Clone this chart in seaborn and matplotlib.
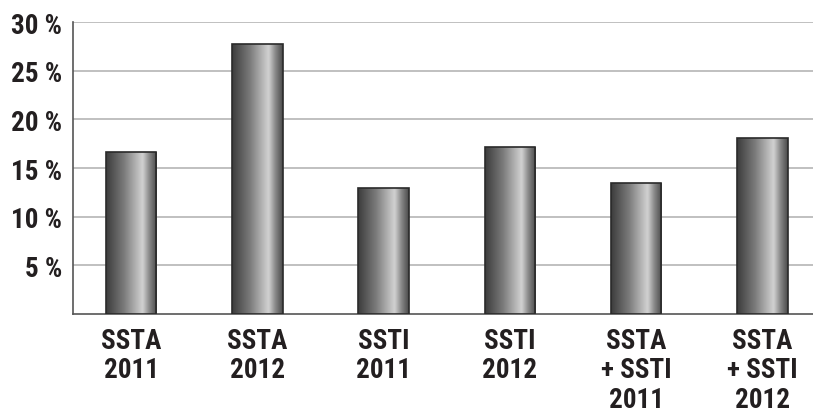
import numpy as np
import pandas as pd
import matplotlib
matplotlib.use("Agg")
import matplotlib.pyplot as plt
import seaborn as sns
from matplotlib.colors import LinearSegmentedColormap

categories = ["SSTA\n2011", "SSTA\n2012", "SSTI\n2011", "SSTI\n2012",
              "SSTA\n+ SSTI\n2011", "SSTA\n+ SSTI\n2012"]
values = [16.6, 27.7, 12.9, 17.2, 13.5, 18.1]
yticks = [5, 10, 15, 20, 25, 30]
ytick_labels = ["5 %", "10 %", "15 %", "20 %", "25 %", "30 %"]

sns.set_theme(style="white")
plt.rcParams['font.family'] = ['Roboto Condensed', 'DejaVu Sans']

df = pd.DataFrame({"cat": categories, "val": values})

fig = plt.figure(figsize=(8.13, 4.14), dpi=100)
ax = fig.add_axes([0.0898, 0.239, 0.9102, 0.7054])

sns.barplot(data=df, x="cat", y="val", ax=ax, width=0.4, color="#777777",
            edgecolor="#2a2a2a", linewidth=1.2, zorder=3)

cmap = LinearSegmentedColormap.from_list(
    "cyl", [(0.0, "#3c3c3c"), (0.35, "#7a7a7a"), (0.72, "#d2d2d2"),
            (0.85, "#8a8a8a"), (1.0, "#4a4a4a")])
grad = np.linspace(0, 1, 256).reshape(1, -1)
for p in ax.patches:
    x0, y0 = p.get_x(), p.get_y()
    w, h = p.get_width(), p.get_height()
    im = ax.imshow(grad, cmap=cmap, extent=[x0, x0 + w, y0, y0 + h],
                   aspect="auto", zorder=3.5, interpolation="bicubic")
    im.set_clip_path(p)
    p.set_zorder(4)
    p.set_facecolor("none")

ax.set_xlim(-0.46, 5.4)
ax.set_ylim(0, 30)
ax.set_yticks(yticks)
ax.set_yticklabels(ytick_labels)
ax.yaxis.grid(True, color="#b5b5b5", linewidth=1.2, zorder=0)
ax.set_axisbelow(True)
ax.set_xlabel("")
ax.set_ylabel("")
for s in ["top", "right"]:
    ax.spines[s].set_visible(False)
for s in ["left", "bottom"]:
    ax.spines[s].set_color("#555555")
    ax.spines[s].set_linewidth(1.2)
ax.tick_params(axis="both", length=0)
ax.tick_params(axis="y", pad=8)
ax.tick_params(axis="x", pad=9)
for lab in ax.get_yticklabels() + ax.get_xticklabels():
    lab.set_fontsize(19.5)
    lab.set_fontweight("bold")
    lab.set_color("#231f20")
for lab in ax.get_xticklabels():
    lab.set_linespacing(1.14)

fig.savefig("out.png", dpi=100)
